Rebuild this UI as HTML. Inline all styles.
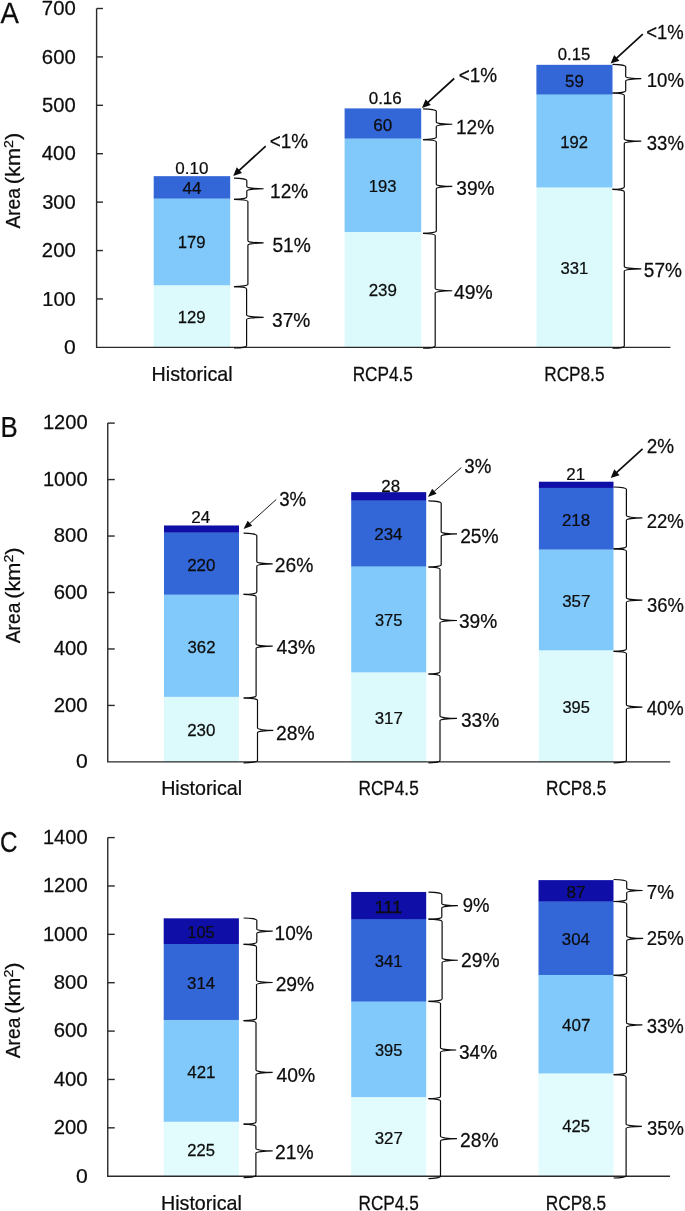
<!DOCTYPE html>
<html lang="en"><head><meta charset="utf-8"><title>Area by scenario</title>
<style>
html,body{margin:0;padding:0;background:#fff;overflow:hidden;}
svg{display:block;font-family:"Liberation Sans", "DejaVu Sans", sans-serif;fill:#0d0d0d;}
</style></head><body>
<svg width="685" height="1211" viewBox="0 0 685 1211">
<rect x="0" y="0" width="685" height="1211" fill="#fff"/>
<!-- panel A -->
<rect x="153.70" y="284.90" width="76.50" height="62.75" fill="#DCFAFC"/>
<rect x="153.70" y="198.26" width="76.50" height="86.95" fill="#82C9FB"/>
<rect x="153.70" y="176.16" width="76.50" height="22.40" fill="#3366D6"/>
<rect x="344.60" y="231.66" width="76.60" height="115.99" fill="#DCFAFC"/>
<rect x="344.60" y="138.23" width="76.60" height="93.73" fill="#82C9FB"/>
<rect x="344.60" y="108.39" width="76.60" height="30.14" fill="#3366D6"/>
<rect x="536.40" y="187.12" width="76.10" height="160.53" fill="#DCFAFC"/>
<rect x="536.40" y="94.18" width="76.10" height="93.24" fill="#82C9FB"/>
<rect x="536.40" y="64.82" width="76.10" height="29.66" fill="#3366D6"/>
<path d="M96.60,8.50 L96.60,347.35 L670.40,347.35" fill="none" stroke="#2a2a2a" stroke-width="1.4"/>
<line x1="96.60" y1="298.94" x2="103.00" y2="298.94" stroke="#2a2a2a" stroke-width="1.4"/>
<line x1="96.60" y1="250.54" x2="103.00" y2="250.54" stroke="#2a2a2a" stroke-width="1.4"/>
<line x1="96.60" y1="202.13" x2="103.00" y2="202.13" stroke="#2a2a2a" stroke-width="1.4"/>
<line x1="96.60" y1="153.72" x2="103.00" y2="153.72" stroke="#2a2a2a" stroke-width="1.4"/>
<line x1="96.60" y1="105.31" x2="103.00" y2="105.31" stroke="#2a2a2a" stroke-width="1.4"/>
<line x1="96.60" y1="56.91" x2="103.00" y2="56.91" stroke="#2a2a2a" stroke-width="1.4"/>
<line x1="96.60" y1="8.50" x2="103.00" y2="8.50" stroke="#2a2a2a" stroke-width="1.4"/>
<path d="M234.00,178.20 A12.80,2.30 0 0 1 246.80,180.50 L246.80,186.45 A16.80,2.30 0 0 0 263.60,188.75 A16.80,2.30 0 0 0 246.80,191.05 L246.80,197.00 A12.80,2.30 0 0 1 234.00,199.30" fill="none" stroke="#0d0d0d" stroke-width="1.2"/>
<path d="M234.00,199.30 A13.90,2.30 0 0 1 247.90,201.60 L247.90,240.65 A15.70,2.30 0 0 0 263.60,242.95 A15.70,2.30 0 0 0 247.90,245.25 L247.90,284.30 A13.90,2.30 0 0 1 234.00,286.60" fill="none" stroke="#0d0d0d" stroke-width="1.2"/>
<path d="M234.00,286.60 A12.60,2.30 0 0 1 246.60,288.90 L246.60,315.00 A17.00,2.30 0 0 0 263.60,317.30 A17.00,2.30 0 0 0 246.60,319.60 L246.60,345.70 A12.60,2.30 0 0 1 234.00,348.00" fill="none" stroke="#0d0d0d" stroke-width="1.2"/>
<line x1="265.70" y1="146.10" x2="238.65" y2="170.90" stroke="#0d0d0d" stroke-width="1.7"/>
<polygon points="233.20,175.90 236.76,167.35 242.03,173.10" fill="#0d0d0d"/>
<path d="M423.10,108.90 A13.20,2.30 0 0 1 436.30,111.20 L436.30,121.95 A16.00,2.30 0 0 0 452.30,124.25 A16.00,2.30 0 0 0 436.30,126.55 L436.30,137.30 A13.20,2.30 0 0 1 423.10,139.60" fill="none" stroke="#0d0d0d" stroke-width="1.2"/>
<path d="M423.10,139.60 A13.20,2.30 0 0 1 436.30,141.90 L436.30,184.15 A16.00,2.30 0 0 0 452.30,186.45 A16.00,2.30 0 0 0 436.30,188.75 L436.30,231.00 A13.20,2.30 0 0 1 423.10,233.30" fill="none" stroke="#0d0d0d" stroke-width="1.2"/>
<path d="M423.10,233.30 A12.10,2.30 0 0 1 435.20,235.60 L435.20,288.45 A17.10,2.30 0 0 0 452.30,290.75 A17.10,2.30 0 0 0 435.20,293.05 L435.20,345.90 A12.10,2.30 0 0 1 423.10,348.20" fill="none" stroke="#0d0d0d" stroke-width="1.2"/>
<line x1="454.20" y1="78.50" x2="427.46" y2="102.91" stroke="#0d0d0d" stroke-width="1.7"/>
<polygon points="422.00,107.90 425.57,99.36 430.83,105.12" fill="#0d0d0d"/>
<path d="M612.50,64.40 A13.20,2.30 0 0 1 625.70,66.70 L625.70,76.40 A15.60,2.30 0 0 0 641.30,78.70 A15.60,2.30 0 0 0 625.70,81.00 L625.70,90.70 A13.20,2.30 0 0 1 612.50,93.00" fill="none" stroke="#0d0d0d" stroke-width="1.2"/>
<path d="M612.50,93.00 A11.80,2.30 0 0 1 624.30,95.30 L624.30,138.90 A17.00,2.30 0 0 0 641.30,141.20 A17.00,2.30 0 0 0 624.30,143.50 L624.30,187.10 A11.80,2.30 0 0 1 612.50,189.40" fill="none" stroke="#0d0d0d" stroke-width="1.2"/>
<path d="M612.50,189.40 A11.80,2.30 0 0 1 624.30,191.70 L624.30,266.50 A17.00,2.30 0 0 0 641.30,268.80 A17.00,2.30 0 0 0 624.30,271.10 L624.30,345.90 A11.80,2.30 0 0 1 612.50,348.20" fill="none" stroke="#0d0d0d" stroke-width="1.2"/>
<line x1="642.80" y1="34.20" x2="616.07" y2="58.52" stroke="#0d0d0d" stroke-width="1.7"/>
<polygon points="610.60,63.50 614.19,54.96 619.44,60.73" fill="#0d0d0d"/>
<!-- panel B -->
<rect x="164.00" y="696.56" width="75.00" height="65.64" fill="#DCFAFC"/>
<rect x="164.00" y="594.36" width="75.00" height="102.50" fill="#82C9FB"/>
<rect x="164.00" y="532.25" width="75.00" height="62.41" fill="#3366D6"/>
<rect x="164.00" y="525.47" width="75.00" height="7.08" fill="#0F0FA8"/>
<rect x="351.20" y="672.00" width="75.00" height="90.20" fill="#DCFAFC"/>
<rect x="351.20" y="566.13" width="75.00" height="106.17" fill="#82C9FB"/>
<rect x="351.20" y="500.06" width="75.00" height="66.37" fill="#3366D6"/>
<rect x="351.20" y="492.15" width="75.00" height="8.21" fill="#0F0FA8"/>
<rect x="538.90" y="649.98" width="74.60" height="112.22" fill="#DCFAFC"/>
<rect x="538.90" y="549.19" width="74.60" height="101.09" fill="#82C9FB"/>
<rect x="538.90" y="487.64" width="74.60" height="61.85" fill="#3366D6"/>
<rect x="538.90" y="481.71" width="74.60" height="6.23" fill="#0F0FA8"/>
<path d="M107.75,423.10 L107.75,761.90 L670.20,761.90" fill="none" stroke="#2a2a2a" stroke-width="1.4"/>
<line x1="107.75" y1="705.43" x2="114.75" y2="705.43" stroke="#2a2a2a" stroke-width="1.4"/>
<line x1="107.75" y1="648.97" x2="114.75" y2="648.97" stroke="#2a2a2a" stroke-width="1.4"/>
<line x1="107.75" y1="592.50" x2="114.75" y2="592.50" stroke="#2a2a2a" stroke-width="1.4"/>
<line x1="107.75" y1="536.03" x2="114.75" y2="536.03" stroke="#2a2a2a" stroke-width="1.4"/>
<line x1="107.75" y1="479.57" x2="114.75" y2="479.57" stroke="#2a2a2a" stroke-width="1.4"/>
<line x1="107.75" y1="423.10" x2="114.75" y2="423.10" stroke="#2a2a2a" stroke-width="1.4"/>
<path d="M243.60,533.20 A13.20,2.30 0 0 1 256.80,535.50 L256.80,561.50 A15.90,2.30 0 0 0 272.70,563.80 A15.90,2.30 0 0 0 256.80,566.10 L256.80,592.10 A13.20,2.30 0 0 1 243.60,594.40" fill="none" stroke="#0d0d0d" stroke-width="1.2"/>
<path d="M243.60,594.40 A12.50,2.30 0 0 1 256.10,596.70 L256.10,643.90 A16.60,2.30 0 0 0 272.70,646.20 A16.60,2.30 0 0 0 256.10,648.50 L256.10,695.70 A12.50,2.30 0 0 1 243.60,698.00" fill="none" stroke="#0d0d0d" stroke-width="1.2"/>
<path d="M243.60,698.00 A13.90,2.30 0 0 1 257.50,700.30 L257.50,728.10 A15.80,2.30 0 0 0 273.30,730.40 A15.80,2.30 0 0 0 257.50,732.70 L257.50,760.50 A13.90,2.30 0 0 1 243.60,762.80" fill="none" stroke="#0d0d0d" stroke-width="1.2"/>
<line x1="276.20" y1="499.50" x2="249.24" y2="523.90" stroke="#0d0d0d" stroke-width="0.95"/>
<polygon points="243.60,529.00 247.70,520.71 252.26,525.75" fill="#0d0d0d"/>
<path d="M428.40,500.90 A12.80,2.30 0 0 1 441.20,503.20 L441.20,531.65 A15.80,2.30 0 0 0 457.00,533.95 A15.80,2.30 0 0 0 441.20,536.25 L441.20,564.70 A12.80,2.30 0 0 1 428.40,567.00" fill="none" stroke="#0d0d0d" stroke-width="1.2"/>
<path d="M428.40,567.00 A11.60,2.30 0 0 1 440.00,569.30 L440.00,618.20 A17.00,2.30 0 0 0 457.00,620.50 A17.00,2.30 0 0 0 440.00,622.80 L440.00,671.70 A11.60,2.30 0 0 1 428.40,674.00" fill="none" stroke="#0d0d0d" stroke-width="1.2"/>
<path d="M428.40,674.00 A11.60,2.30 0 0 1 440.00,676.30 L440.00,716.10 A17.00,2.30 0 0 0 457.00,718.40 A17.00,2.30 0 0 0 440.00,720.70 L440.00,760.50 A11.60,2.30 0 0 1 428.40,762.80" fill="none" stroke="#0d0d0d" stroke-width="1.2"/>
<line x1="461.30" y1="467.60" x2="433.61" y2="491.89" stroke="#0d0d0d" stroke-width="0.95"/>
<polygon points="427.90,496.90 432.12,488.67 436.61,493.78" fill="#0d0d0d"/>
<path d="M613.60,487.00 A12.80,2.30 0 0 1 626.40,489.30 L626.40,515.60 A16.00,2.30 0 0 0 642.40,517.90 A16.00,2.30 0 0 0 626.40,520.20 L626.40,546.50 A12.80,2.30 0 0 1 613.60,548.80" fill="none" stroke="#0d0d0d" stroke-width="1.2"/>
<path d="M613.60,548.80 A12.80,2.30 0 0 1 626.40,551.10 L626.40,597.75 A16.00,2.30 0 0 0 642.40,600.05 A16.00,2.30 0 0 0 626.40,602.35 L626.40,649.00 A12.80,2.30 0 0 1 613.60,651.30" fill="none" stroke="#0d0d0d" stroke-width="1.2"/>
<path d="M613.60,651.30 A12.80,2.30 0 0 1 626.40,653.60 L626.40,704.75 A16.00,2.30 0 0 0 642.40,707.05 A16.00,2.30 0 0 0 626.40,709.35 L626.40,760.50 A12.80,2.30 0 0 1 613.60,762.80" fill="none" stroke="#0d0d0d" stroke-width="1.2"/>
<line x1="642.60" y1="448.90" x2="616.18" y2="472.92" stroke="#0d0d0d" stroke-width="1.7"/>
<polygon points="610.70,477.90 614.29,469.36 619.54,475.14" fill="#0d0d0d"/>
<!-- panel C -->
<rect x="163.70" y="1121.48" width="75.20" height="55.02" fill="#E2FBFD"/>
<rect x="163.70" y="1019.66" width="75.20" height="102.12" fill="#82C9FB"/>
<rect x="163.70" y="943.72" width="75.20" height="76.24" fill="#3366D6"/>
<rect x="163.70" y="918.32" width="75.20" height="25.69" fill="#0F0FA8"/>
<rect x="351.20" y="1096.81" width="75.00" height="79.69" fill="#E2FBFD"/>
<rect x="351.20" y="1001.28" width="75.00" height="95.83" fill="#82C9FB"/>
<rect x="351.20" y="918.81" width="75.00" height="82.77" fill="#3366D6"/>
<rect x="351.20" y="891.96" width="75.00" height="27.15" fill="#0F0FA8"/>
<rect x="538.50" y="1073.11" width="75.00" height="103.39" fill="#E2FBFD"/>
<rect x="538.50" y="974.67" width="75.00" height="98.74" fill="#82C9FB"/>
<rect x="538.50" y="901.15" width="75.00" height="73.82" fill="#3366D6"/>
<rect x="538.50" y="880.11" width="75.00" height="21.34" fill="#0F0FA8"/>
<path d="M107.75,837.60 L107.75,1176.20 L670.00,1176.20" fill="none" stroke="#2a2a2a" stroke-width="1.4"/>
<line x1="107.75" y1="1127.83" x2="114.75" y2="1127.83" stroke="#2a2a2a" stroke-width="1.4"/>
<line x1="107.75" y1="1079.46" x2="114.75" y2="1079.46" stroke="#2a2a2a" stroke-width="1.4"/>
<line x1="107.75" y1="1031.09" x2="114.75" y2="1031.09" stroke="#2a2a2a" stroke-width="1.4"/>
<line x1="107.75" y1="982.71" x2="114.75" y2="982.71" stroke="#2a2a2a" stroke-width="1.4"/>
<line x1="107.75" y1="934.34" x2="114.75" y2="934.34" stroke="#2a2a2a" stroke-width="1.4"/>
<line x1="107.75" y1="885.97" x2="114.75" y2="885.97" stroke="#2a2a2a" stroke-width="1.4"/>
<line x1="107.75" y1="837.60" x2="114.75" y2="837.60" stroke="#2a2a2a" stroke-width="1.4"/>
<path d="M243.60,918.00 A13.20,2.30 0 0 1 256.80,920.30 L256.80,928.90 A15.90,2.30 0 0 0 272.70,931.20 A15.90,2.30 0 0 0 256.80,933.50 L256.80,942.10 A13.20,2.30 0 0 1 243.60,944.40" fill="none" stroke="#0d0d0d" stroke-width="1.2"/>
<path d="M243.60,944.40 A12.90,2.30 0 0 1 256.50,946.70 L256.50,980.20 A16.20,2.30 0 0 0 272.70,982.50 A16.20,2.30 0 0 0 256.50,984.80 L256.50,1018.30 A12.90,2.30 0 0 1 243.60,1020.60" fill="none" stroke="#0d0d0d" stroke-width="1.2"/>
<path d="M243.60,1020.60 A12.40,2.30 0 0 1 256.00,1022.90 L256.00,1070.10 A16.70,2.30 0 0 0 272.70,1072.40 A16.70,2.30 0 0 0 256.00,1074.70 L256.00,1121.90 A12.40,2.30 0 0 1 243.60,1124.20" fill="none" stroke="#0d0d0d" stroke-width="1.2"/>
<path d="M243.60,1124.20 A12.30,2.30 0 0 1 255.90,1126.50 L255.90,1148.60 A16.80,2.30 0 0 0 272.70,1150.90 A16.80,2.30 0 0 0 255.90,1153.20 L255.90,1175.30 A12.30,2.30 0 0 1 243.60,1177.60" fill="none" stroke="#0d0d0d" stroke-width="1.2"/>
<path d="M428.50,892.20 A13.30,2.30 0 0 1 441.80,894.50 L441.80,903.40 A16.10,2.30 0 0 0 457.90,905.70 A16.10,2.30 0 0 0 441.80,908.00 L441.80,916.90 A13.30,2.30 0 0 1 428.50,919.20" fill="none" stroke="#0d0d0d" stroke-width="1.2"/>
<path d="M428.50,919.20 A13.60,2.30 0 0 1 442.10,921.50 L442.10,957.95 A15.80,2.30 0 0 0 457.90,960.25 A15.80,2.30 0 0 0 442.10,962.55 L442.10,999.00 A13.60,2.30 0 0 1 428.50,1001.30" fill="none" stroke="#0d0d0d" stroke-width="1.2"/>
<path d="M428.50,1001.30 A12.00,2.30 0 0 1 440.50,1003.60 L440.50,1047.70 A15.70,2.30 0 0 0 456.20,1050.00 A15.70,2.30 0 0 0 440.50,1052.30 L440.50,1096.40 A12.00,2.30 0 0 1 428.50,1098.70" fill="none" stroke="#0d0d0d" stroke-width="1.2"/>
<path d="M428.50,1098.70 A12.00,2.30 0 0 1 440.50,1101.00 L440.50,1136.35 A16.50,2.30 0 0 0 457.00,1138.65 A16.50,2.30 0 0 0 440.50,1140.95 L440.50,1176.30 A12.00,2.30 0 0 1 428.50,1178.60" fill="none" stroke="#0d0d0d" stroke-width="1.2"/>
<path d="M613.60,879.50 A13.10,2.30 0 0 1 626.70,881.80 L626.70,888.20 A15.90,2.30 0 0 0 642.60,890.50 A15.90,2.30 0 0 0 626.70,892.80 L626.70,899.20 A13.10,2.30 0 0 1 613.60,901.50" fill="none" stroke="#0d0d0d" stroke-width="1.2"/>
<path d="M613.60,901.50 A13.10,2.30 0 0 1 626.70,903.80 L626.70,936.10 A16.50,2.30 0 0 0 643.20,938.40 A16.50,2.30 0 0 0 626.70,940.70 L626.70,973.00 A13.10,2.30 0 0 1 613.60,975.30" fill="none" stroke="#0d0d0d" stroke-width="1.2"/>
<path d="M613.60,975.30 A12.90,2.30 0 0 1 626.50,977.60 L626.50,1022.65 A15.90,2.30 0 0 0 642.40,1024.95 A15.90,2.30 0 0 0 626.50,1027.25 L626.50,1072.30 A12.90,2.30 0 0 1 613.60,1074.60" fill="none" stroke="#0d0d0d" stroke-width="1.2"/>
<path d="M613.60,1074.60 A12.50,2.30 0 0 1 626.10,1076.90 L626.10,1124.00 A15.80,2.30 0 0 0 641.90,1126.30 A15.80,2.30 0 0 0 626.10,1128.60 L626.10,1175.70 A12.50,2.30 0 0 1 613.60,1178.00" fill="none" stroke="#0d0d0d" stroke-width="1.2"/>
<g opacity="0.999" stroke="#0d0d0d" stroke-width="0.25" stroke-linejoin="round">
<text transform="translate(64.05,353.99) scale(1.027,1)" font-size="20.6">0</text>
<text transform="translate(42.30,305.58) scale(0.974,1)" font-size="20.6">100</text>
<text transform="translate(41.85,257.17) scale(0.987,1)" font-size="20.6">200</text>
<text transform="translate(42.17,208.77) scale(0.978,1)" font-size="20.6">300</text>
<text transform="translate(41.80,160.36) scale(0.989,1)" font-size="20.6">400</text>
<text transform="translate(42.06,111.95) scale(0.981,1)" font-size="20.6">500</text>
<text transform="translate(41.85,63.54) scale(0.987,1)" font-size="20.6">600</text>
<text transform="translate(41.85,15.14) scale(0.987,1)" font-size="20.6">700</text>
<text transform="translate(0.43,22.80) scale(0.922,1)" font-size="29.86">A</text>
<text transform="translate(19.9,228.60) rotate(-90)" font-size="20.5" textLength="40.6" lengthAdjust="spacingAndGlyphs">Area</text>
<text transform="translate(19.9,184.20) rotate(-90)" font-size="20.5" textLength="51.4" lengthAdjust="spacingAndGlyphs">(km<tspan font-size="13.5" dy="-7.4">2</tspan><tspan dy="7.4">)</tspan></text>
<text transform="translate(151.60,380.70) scale(0.986,1)" font-size="19.97">Historical</text>
<text transform="translate(352.70,380.70) scale(0.862,1)" font-size="19.97">RCP4.5</text>
<text transform="translate(544.25,380.70) scale(0.862,1)" font-size="19.97">RCP8.5</text>
<text transform="translate(177.67,322.98) scale(0.973,1)" font-size="17.17">129</text>
<text transform="translate(177.67,248.43) scale(0.973,1)" font-size="17.17">179</text>
<text transform="translate(182.40,194.45) scale(0.996,1)" font-size="17.17">44</text>
<text transform="translate(175.31,173.60) scale(0.992,1)" font-size="17.17">0.10</text>
<text transform="translate(270.07,197.90) scale(0.916,1)" font-size="20.79">12%</text>
<text transform="translate(272.43,252.30) scale(0.924,1)" font-size="20.79">51%</text>
<text transform="translate(272.08,326.80) scale(0.921,1)" font-size="20.79">37%</text>
<text transform="translate(269.65,147.50) scale(0.911,1)" font-size="20.79">&lt;1%</text>
<text transform="translate(368.63,296.35) scale(0.987,1)" font-size="17.17">239</text>
<text transform="translate(368.65,191.79) scale(0.970,1)" font-size="17.17">193</text>
<text transform="translate(373.23,130.56) scale(0.993,1)" font-size="17.17">60</text>
<text transform="translate(368.68,103.70) scale(0.991,1)" font-size="17.17">0.16</text>
<text transform="translate(455.97,133.95) scale(0.916,1)" font-size="20.79">12%</text>
<text transform="translate(456.28,194.75) scale(0.921,1)" font-size="20.79">39%</text>
<text transform="translate(454.06,298.55) scale(0.930,1)" font-size="20.79">49%</text>
<text transform="translate(458.65,81.80) scale(0.911,1)" font-size="20.79">&lt;1%</text>
<text transform="translate(560.52,274.08) scale(0.972,1)" font-size="17.17">331</text>
<text transform="translate(560.24,147.50) scale(0.971,1)" font-size="17.17">192</text>
<text transform="translate(565.03,86.75) scale(0.983,1)" font-size="17.17">59</text>
<text transform="translate(557.82,59.70) scale(0.975,1)" font-size="17.17">0.15</text>
<text transform="translate(646.71,86.70) scale(0.895,1)" font-size="20.79">10%</text>
<text transform="translate(646.80,149.90) scale(0.892,1)" font-size="20.79">33%</text>
<text transform="translate(643.84,276.95) scale(0.916,1)" font-size="20.79">57%</text>
<text transform="translate(646.27,38.80) scale(0.890,1)" font-size="20.79">&lt;1%</text>
<text transform="translate(75.95,768.14) scale(1.027,1)" font-size="20.6">0</text>
<text transform="translate(53.75,711.67) scale(0.987,1)" font-size="20.6">200</text>
<text transform="translate(53.70,655.20) scale(0.989,1)" font-size="20.6">400</text>
<text transform="translate(53.75,598.74) scale(0.987,1)" font-size="20.6">600</text>
<text transform="translate(53.79,542.27) scale(0.986,1)" font-size="20.6">800</text>
<text transform="translate(42.93,485.80) scale(0.977,1)" font-size="20.6">1000</text>
<text transform="translate(42.93,429.34) scale(0.977,1)" font-size="20.6">1200</text>
<text transform="translate(0.47,436.80) scale(0.865,1)" font-size="29.86">B</text>
<text transform="translate(19.9,643.20) rotate(-90)" font-size="20.5" textLength="40.6" lengthAdjust="spacingAndGlyphs">Area</text>
<text transform="translate(19.9,598.80) rotate(-90)" font-size="20.5" textLength="51.4" lengthAdjust="spacingAndGlyphs">(km<tspan font-size="13.5" dy="-7.4">2</tspan><tspan dy="7.4">)</tspan></text>
<text transform="translate(161.15,795.10) scale(0.986,1)" font-size="19.97">Historical</text>
<text transform="translate(358.50,795.10) scale(0.862,1)" font-size="19.97">RCP4.5</text>
<text transform="translate(546.00,795.10) scale(0.862,1)" font-size="19.97">RCP8.5</text>
<text transform="translate(187.16,736.28) scale(0.987,1)" font-size="17.17">230</text>
<text transform="translate(187.54,652.71) scale(0.975,1)" font-size="17.17">362</text>
<text transform="translate(187.16,570.55) scale(0.987,1)" font-size="17.17">220</text>
<text transform="translate(191.34,523.40) scale(0.994,1)" font-size="17.17">24</text>
<text transform="translate(274.73,571.70) scale(0.928,1)" font-size="20.79">26%</text>
<text transform="translate(276.56,654.30) scale(0.930,1)" font-size="20.79">43%</text>
<text transform="translate(276.03,740.00) scale(0.928,1)" font-size="20.79">28%</text>
<text transform="translate(279.20,505.90) scale(0.899,1)" font-size="20.79">3%</text>
<text transform="translate(374.65,724.00) scale(0.982,1)" font-size="17.17">317</text>
<text transform="translate(374.92,626.31) scale(0.957,1)" font-size="17.17">375</text>
<text transform="translate(374.27,540.34) scale(0.988,1)" font-size="17.17">234</text>
<text transform="translate(381.25,491.50) scale(0.985,1)" font-size="17.17">28</text>
<text transform="translate(460.13,543.30) scale(0.928,1)" font-size="20.79">25%</text>
<text transform="translate(458.98,628.25) scale(0.921,1)" font-size="20.79">39%</text>
<text transform="translate(460.98,726.70) scale(0.921,1)" font-size="20.79">33%</text>
<text transform="translate(464.30,472.90) scale(0.899,1)" font-size="20.79">3%</text>
<text transform="translate(562.42,712.99) scale(0.957,1)" font-size="17.17">395</text>
<text transform="translate(562.15,606.83) scale(0.982,1)" font-size="17.17">357</text>
<text transform="translate(561.98,525.66) scale(0.982,1)" font-size="17.17">218</text>
<text transform="translate(566.30,479.80) scale(0.984,1)" font-size="17.17">21</text>
<text transform="translate(646.67,527.50) scale(0.893,1)" font-size="20.79">22%</text>
<text transform="translate(646.91,612.40) scale(0.887,1)" font-size="20.79">36%</text>
<text transform="translate(646.78,714.95) scale(0.890,1)" font-size="20.79">40%</text>
<text transform="translate(646.66,453.20) scale(0.909,1)" font-size="20.79">2%</text>
<text transform="translate(75.95,1182.54) scale(1.027,1)" font-size="20.6">0</text>
<text transform="translate(53.75,1134.17) scale(0.987,1)" font-size="20.6">200</text>
<text transform="translate(53.70,1085.79) scale(0.989,1)" font-size="20.6">400</text>
<text transform="translate(53.75,1037.42) scale(0.987,1)" font-size="20.6">600</text>
<text transform="translate(53.79,989.05) scale(0.986,1)" font-size="20.6">800</text>
<text transform="translate(42.93,940.68) scale(0.977,1)" font-size="20.6">1000</text>
<text transform="translate(42.93,892.31) scale(0.977,1)" font-size="20.6">1200</text>
<text transform="translate(42.93,843.94) scale(0.977,1)" font-size="20.6">1400</text>
<text transform="translate(-0.01,851.50) scale(0.813,1)" font-size="29.86">C</text>
<text transform="translate(19.9,1058.20) rotate(-90)" font-size="20.5" textLength="40.6" lengthAdjust="spacingAndGlyphs">Area</text>
<text transform="translate(19.9,1013.80) rotate(-90)" font-size="20.5" textLength="51.4" lengthAdjust="spacingAndGlyphs">(km<tspan font-size="13.5" dy="-7.4">2</tspan><tspan dy="7.4">)</tspan></text>
<text transform="translate(160.95,1209.50) scale(0.986,1)" font-size="19.97">Historical</text>
<text transform="translate(358.50,1209.50) scale(0.862,1)" font-size="19.97">RCP4.5</text>
<text transform="translate(545.80,1209.50) scale(0.862,1)" font-size="19.97">RCP8.5</text>
<text transform="translate(187.28,1155.84) scale(0.966,1)" font-size="17.17">225</text>
<text transform="translate(187.34,1077.72) scale(0.983,1)" font-size="17.17">421</text>
<text transform="translate(187.11,988.84) scale(0.978,1)" font-size="17.17">314</text>
<text transform="translate(187.28,938.17) scale(0.953,1)" font-size="17.17">105</text>
<text transform="translate(274.57,940.20) scale(0.916,1)" font-size="20.79">10%</text>
<text transform="translate(275.63,991.40) scale(0.928,1)" font-size="20.79">29%</text>
<text transform="translate(276.56,1081.50) scale(0.930,1)" font-size="20.79">40%</text>
<text transform="translate(275.03,1159.00) scale(0.928,1)" font-size="20.79">21%</text>
<text transform="translate(374.65,1143.50) scale(0.982,1)" font-size="17.17">327</text>
<text transform="translate(374.92,1056.19) scale(0.957,1)" font-size="17.17">395</text>
<text transform="translate(374.77,967.19) scale(0.972,1)" font-size="17.17">341</text>
<text transform="translate(374.39,912.53) scale(1.070,1)" font-size="17.17">111</text>
<text transform="translate(462.72,912.10) scale(0.891,1)" font-size="20.79">9%</text>
<text transform="translate(461.03,967.00) scale(0.928,1)" font-size="20.79">29%</text>
<text transform="translate(458.88,1058.50) scale(0.921,1)" font-size="20.79">34%</text>
<text transform="translate(460.03,1147.10) scale(0.928,1)" font-size="20.79">28%</text>
<text transform="translate(562.18,1131.65) scale(0.968,1)" font-size="17.17">425</text>
<text transform="translate(561.92,1031.04) scale(0.993,1)" font-size="17.17">407</text>
<text transform="translate(561.81,945.06) scale(0.978,1)" font-size="17.17">304</text>
<text transform="translate(566.45,897.78) scale(0.998,1)" font-size="17.17">87</text>
<text transform="translate(646.81,898.60) scale(0.908,1)" font-size="20.79">7%</text>
<text transform="translate(646.67,945.40) scale(0.893,1)" font-size="20.79">25%</text>
<text transform="translate(646.70,1032.70) scale(0.892,1)" font-size="20.79">33%</text>
<text transform="translate(646.91,1134.75) scale(0.887,1)" font-size="20.79">35%</text>
</g>
</svg>
</body></html>
